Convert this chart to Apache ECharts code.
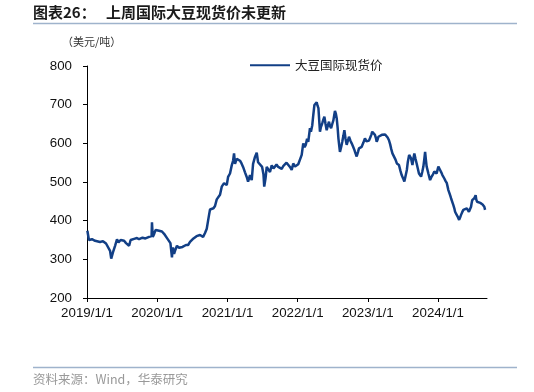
<!DOCTYPE html>
<html>
<head>
<meta charset="utf-8">
<script src="https://cdn.jsdelivr.net/npm/echarts@6/dist/echarts.min.js"></script>
<style>
html,body{margin:0;padding:0;background:#fff;}
#chart{width:534px;height:392px;}
</style>
</head>
<body>
<div id="chart"></div>
<script>
// ---- data ----
const seriesName = '大豆国际现货价';
const yTicks = [200, 300, 400, 500, 600, 700, 800];
const xTickLabels = ['2019/1/1', '2020/1/1', '2021/1/1', '2022/1/1', '2023/1/1', '2024/1/1'];
const dates = [
 '2019-01-03','2019-01-11','2019-01-27','2019-02-12','2019-02-22','2019-03-10','2019-03-25','2019-04-10','2019-04-20','2019-05-01',
 '2019-05-07','2019-05-16','2019-05-27','2019-06-06','2019-06-14','2019-06-25','2019-07-05','2019-07-13','2019-07-23','2019-07-31',
 '2019-08-08','2019-08-16','2019-08-26','2019-09-03','2019-09-10','2019-09-18','2019-09-29','2019-10-07','2019-10-17','2019-10-25',
 '2019-11-01','2019-11-09','2019-11-20','2019-11-28','2019-12-03','2019-12-05','2019-12-09','2019-12-16','2019-12-24',
 '2020-01-03','2020-01-11','2020-01-18','2020-01-26','2020-02-06','2020-02-14','2020-02-24','2020-03-03','2020-03-10','2020-03-13',
 '2020-03-18','2020-03-21','2020-03-23','2020-03-29','2020-04-05','2020-04-13','2020-04-24','2020-05-03','2020-05-12','2020-05-20',
 '2020-05-30','2020-06-10','2020-06-20','2020-06-29','2020-07-08','2020-07-16','2020-07-24','2020-08-01','2020-08-11','2020-08-20',
 '2020-08-27','2020-09-06','2020-09-15','2020-09-22','2020-09-27','2020-10-02','2020-10-11','2020-10-20','2020-10-28','2020-11-06',
 '2020-11-13','2020-11-23','2020-12-02','2020-12-09','2020-12-14','2020-12-28',
 '2021-01-04','2021-01-14','2021-01-23','2021-01-30','2021-02-04','2021-02-09','2021-02-18','2021-02-27','2021-03-07','2021-03-15',
 '2021-03-23','2021-04-02','2021-04-11','2021-04-18','2021-04-28','2021-05-07','2021-05-14','2021-05-24','2021-06-02','2021-06-09',
 '2021-06-19','2021-06-30','2021-07-07','2021-07-11','2021-07-18','2021-07-24','2021-08-02','2021-08-10','2021-08-19','2021-08-28',
 '2021-09-05','2021-09-13','2021-09-22','2021-10-01','2021-10-10','2021-10-19','2021-10-27','2021-11-04','2021-11-13','2021-11-22',
 '2021-12-01','2021-12-09','2021-12-18','2021-12-27',
 '2022-01-04','2022-01-13','2022-01-22','2022-01-30','2022-02-06','2022-02-12','2022-02-19','2022-02-25','2022-03-06','2022-03-11',
 '2022-03-18','2022-03-23','2022-03-29','2022-04-04','2022-04-10','2022-04-14','2022-04-19','2022-04-23','2022-04-27','2022-05-02',
 '2022-05-09','2022-05-15','2022-05-20','2022-05-26','2022-06-01','2022-06-08','2022-06-13','2022-06-18','2022-06-24','2022-06-30',
 '2022-07-06','2022-07-10','2022-07-14','2022-07-19','2022-07-23','2022-07-28','2022-08-01','2022-08-05','2022-08-09','2022-08-16',
 '2022-08-21','2022-08-27','2022-09-01','2022-09-07','2022-09-13','2022-09-20','2022-09-25','2022-10-03','2022-10-09','2022-10-16',
 '2022-10-23','2022-10-29','2022-11-04','2022-11-11','2022-11-16','2022-11-24','2022-11-30','2022-12-09','2022-12-17','2022-12-25',
 '2022-12-31',
 '2023-01-07','2023-01-12','2023-01-19','2023-01-24','2023-01-31','2023-02-07','2023-02-13','2023-02-16','2023-02-21','2023-02-25',
 '2023-03-06','2023-03-15','2023-03-23','2023-04-01','2023-04-07','2023-04-14','2023-04-21','2023-04-27','2023-05-03','2023-05-09',
 '2023-05-14','2023-05-19','2023-05-25','2023-06-01','2023-06-06','2023-06-12','2023-06-19','2023-06-26','2023-07-03','2023-07-10',
 '2023-07-16','2023-07-23','2023-07-28','2023-08-04','2023-08-09','2023-08-14','2023-08-21','2023-08-26','2023-08-31','2023-09-06',
 '2023-09-12','2023-09-18','2023-09-24','2023-09-30','2023-10-05','2023-10-11','2023-10-17','2023-10-22','2023-10-26','2023-10-30',
 '2023-11-03','2023-11-08','2023-11-12','2023-11-21','2023-11-26','2023-11-29','2023-12-06','2023-12-13','2023-12-19','2023-12-25',
 '2023-12-30',
 '2024-01-03','2024-01-08','2024-01-12','2024-01-18','2024-01-24','2024-01-29','2024-02-03','2024-02-09','2024-02-16','2024-02-20',
 '2024-02-24','2024-02-29','2024-03-04','2024-03-09','2024-03-13','2024-03-17','2024-03-21','2024-03-26','2024-03-30','2024-04-06',
 '2024-04-13','2024-04-20','2024-04-25','2024-04-30','2024-05-06','2024-05-12','2024-05-21','2024-05-30','2024-06-05','2024-06-10',
 '2024-06-16','2024-06-21','2024-06-24','2024-06-27','2024-07-03','2024-07-08','2024-07-12','2024-07-15','2024-07-18','2024-07-22',
 '2024-07-27','2024-08-01','2024-08-08','2024-08-16','2024-08-20','2024-08-24','2024-08-29','2024-09-02'
];
const prices = [
 374,350,352,348,350,345,347,341,336,322,
 302,318,335,352,344,350,346,348,342,338,
 335,350,350,353,351,355,352,354,356,357,
 354,355,358,359,360,396,358,365,376,
 375,374,373,372,366,361,353,348,342,340,
 305,325,331,314,325,335,330,327,332,335,
 337,337,345,350,354,358,360,362,363,362,
 358,368,379,400,415,429,425,432,438,455,
 450,467,488,493,497,492,
 513,522,543,555,574,547,560,556,555,548,
 539,525,513,501,518,505,547,565,576,551,
 555,539,520,488,510,539,532,526,543,535,
 530,545,539,536,534,542,544,550,548,539,
 531,548,540,544,
 546,548,570,600,590,596,612,604,639,630,
 647,672,699,702,706,698,691,660,630,642,
 652,662,669,650,634,648,656,645,639,650,
 660,672,684,676,665,640,613,595,578,592,
 604,620,634,612,596,608,617,606,600,592,
 583,574,566,578,587,585,591,602,613,605,
 600,
 607,613,622,630,626,622,612,604,610,617,
 620,622,624,623,620,615,608,598,585,574,
 578,570,558,548,550,544,530,518,510,501,
 515,531,552,570,565,561,544,560,574,560,
 548,535,522,518,514,526,540,560,578,558,
 540,530,522,505,510,514,520,527,524,522,
 532,
 540,535,531,525,518,513,509,503,497,488,
 479,472,466,458,453,446,440,432,423,416,
 410,402,408,415,422,428,431,432,428,423,
 428,436,445,453,456,458,462,466,455,449,
 447,445,446,445,442,440,436,428
];
const xAxisEnd = '2024-09-12';
// ---------------------------------------------

function ts(s) { const p = s.split(/[-\/]/); return Date.UTC(+p[0], +p[1] - 1, +p[2]); }
const yearStarts = xTickLabels.map(ts);
const chart = echarts.init(document.getElementById('chart'), null, {renderer: 'canvas'});
const lineColor = '#123f86';
const option = {
  animation: false,
  backgroundColor: '#fff',
  textStyle: {fontFamily: 'Liberation Sans, Arial, sans-serif'},
  graphic: [
    {type: 'text', left: 33, top: 5, style: {text: '图表26：', font: 'bold 15px "Noto Sans CJK SC", sans-serif', fill: '#1a1a1a'}},
    {type: 'text', left: 106, top: 5, style: {text: '上周国际大豆现货价未更新', font: 'bold 15px "Noto Sans CJK SC", sans-serif', fill: '#1a1a1a'}},
    {type: 'line', shape: {x1: 33, y1: 23.5, x2: 517, y2: 23.5}, style: {stroke: '#9fb3cc', lineWidth: 1.5}},
    {type: 'text', left: 62, top: 36, style: {text: '（美元/吨）', font: '11px "Noto Sans CJK SC", sans-serif', fill: '#333'}},
    {type: 'line', shape: {x1: 33, y1: 367.5, x2: 517, y2: 367.5}, style: {stroke: '#9fb3cc', lineWidth: 1.5}},
    {type: 'text', left: 33, top: 373, style: {text: '资料来源：Wind，华泰研究', font: '12.5px "Noto Sans CJK SC", sans-serif', fill: '#999'}}
  ],
  legend: {
    left: 245, top: 54,
    itemWidth: 40, itemHeight: 10, itemGap: 5,
    icon: 'path://M0,4 L40,4 L40,6 L0,6 Z',
    textStyle: {fontFamily: '"Noto Sans CJK SC", sans-serif', fontSize: 12.5, color: '#222'},
    data: [{name: seriesName, itemStyle: {color: lineColor}}]
  },
  grid: {left: 87, right: 47, top: 66, bottom: 94, containLabel: false},
  xAxis: {
    type: 'value',
    min: yearStarts[0],
    max: ts(xAxisEnd),
    axisLine: {lineStyle: {color: '#000', width: 1}},
    axisTick: {show: true, length: 4, customValues: yearStarts, lineStyle: {color: '#000'}},
    axisLabel: {
      customValues: yearStarts,
      margin: 9, fontSize: 13.3, color: '#111',
      fontFamily: 'Liberation Sans, Arial, sans-serif',
      formatter: function (v) { const i = yearStarts.indexOf(v); return i >= 0 ? xTickLabels[i] : ''; }
    },
    splitLine: {show: false}
  },
  yAxis: {
    type: 'value',
    min: yTicks[0], max: yTicks[yTicks.length - 1], interval: 100,
    axisLine: {show: true, lineStyle: {color: '#000', width: 1}},
    axisTick: {show: true, length: 4, lineStyle: {color: '#000'}},
    axisLabel: {margin: 15, fontSize: 13.3, color: '#111', fontFamily: 'Liberation Sans, Arial, sans-serif'},
    splitLine: {show: false}
  },
  series: [{
    name: seriesName,
    type: 'line',
    showSymbol: false,
    symbol: 'none',
    data: dates.map((d, i) => [ts(d), prices[i]]),
    lineStyle: {color: lineColor, width: 2.5},
    itemStyle: {color: lineColor}
  }]
};
chart.setOption(option);
</script>
</body>
</html>
